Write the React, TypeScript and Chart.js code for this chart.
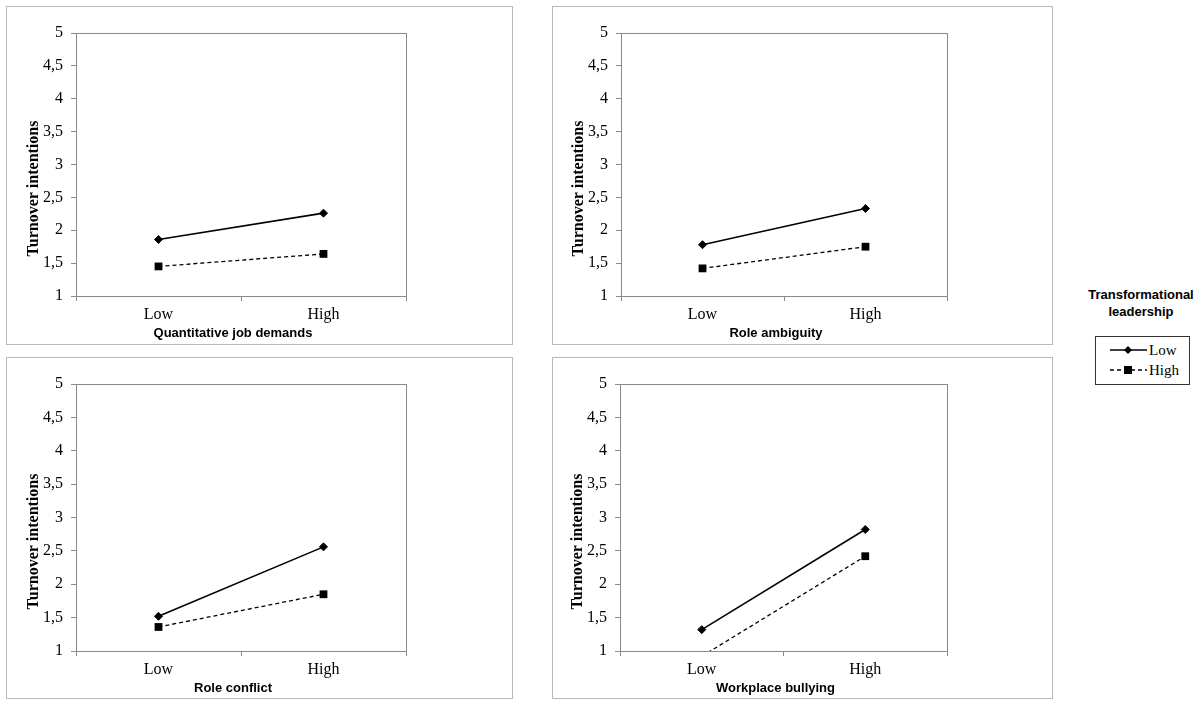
import React, { useEffect, useRef } from 'react';
import { Chart, registerables } from 'chart.js';

Chart.register(...registerables);

// categories on the x axis and the two moderator levels
const categories = ['Low', 'High'];
const seriesNames = ['Low', 'High'];

// y axis ticks (comma decimals as in the source)
const yTickValues = [1, 1.5, 2, 2.5, 3, 3.5, 4, 4.5, 5];
const yTickLabels = ['1', '1,5', '2', '2,5', '3', '3,5', '4', '4,5', '5'];

// values
const jobDemandsLow = [1.86, 2.26];
const jobDemandsHigh = [1.45, 1.64];
const ambiguityLow = [1.78, 2.33];
const ambiguityHigh = [1.42, 1.75];
const conflictLow = [1.52, 2.56];
const conflictHigh = [1.36, 1.85];
const bullyingLow = [1.32, 2.82];
const bullyingHigh = [0.92, 2.42];

const yTitle = 'Turnover intentions';
const legendTitle = 'Transformational leadership';

const AXIS_GRAY = '#8a8a8a';
const BOX_GRAY = '#b8b8b8';
const Y_AXIS_W = 40;
const X_AXIS_H = 28;
const SERIF = '"Liberation Serif", "Times New Roman", serif';
const SANS = '"Liberation Sans", Arial, sans-serif';

type Box = { x: number; y: number; w: number; h: number; plot: { l: number; t: number; r: number; b: number } };

const panels: { title: string; low: number[]; high: number[]; box: Box }[] = [
  { title: 'Quantitative job demands', low: jobDemandsLow, high: jobDemandsHigh,
    box: { x: 6, y: 6, w: 507, h: 339, plot: { l: 76, t: 33, r: 406, b: 296 } } },
  { title: 'Role ambiguity', low: ambiguityLow, high: ambiguityHigh,
    box: { x: 552, y: 6, w: 501, h: 339, plot: { l: 621, t: 33, r: 947, b: 296 } } },
  { title: 'Role conflict', low: conflictLow, high: conflictHigh,
    box: { x: 6, y: 357, w: 507, h: 342, plot: { l: 76, t: 384, r: 406, b: 651 } } },
  { title: 'Workplace bullying', low: bullyingLow, high: bullyingHigh,
    box: { x: 552, y: 357, w: 501, h: 342, plot: { l: 620, t: 384, r: 947, b: 651 } } },
];

// draws the plot frame and both axis titles
const framePlugin = {
  id: 'frame',
  beforeDatasetsDraw(chart: any) {
    const { ctx, chartArea: a } = chart;
    ctx.save();
    ctx.strokeStyle = AXIS_GRAY;
    ctx.lineWidth = 1;
    ctx.strokeRect(Math.round(a.left) + 0.5, Math.round(a.top) + 0.5, Math.round(a.right - a.left), Math.round(a.bottom - a.top));
    ctx.restore();
  },
  afterDraw(chart: any) {
    const { ctx, chartArea: a } = chart;
    const title = chart.options.plugins.frame.xTitle;
    ctx.save();
    ctx.fillStyle = '#000';
    ctx.textAlign = 'center';
    ctx.textBaseline = 'middle';
    ctx.font = `bold 13px ${SANS}`;
    ctx.fillText(title, (a.left + a.right) / 2 - 8, a.bottom + 37);
    ctx.translate(a.left - 42, (a.top + a.bottom) / 2 + 24);
    ctx.rotate(-Math.PI / 2);
    ctx.font = `bold 16px ${SERIF}`;
    ctx.fillText(yTitle, 0, 0);
    ctx.restore();
  },
};

function Panel({ title, low, high, box }: { title: string; low: number[]; high: number[]; box: Box }) {
  const canvasRef = useRef<HTMLCanvasElement>(null);
  const cx = box.x + 1;
  const cy = box.y + 1;
  const cw = box.w - 2;
  const ch = box.h - 2;

  useEffect(() => {
    if (!canvasRef.current) return;
    const padding = {
      left: box.plot.l - cx - Y_AXIS_W,
      top: box.plot.t - cy,
      right: cx + cw - box.plot.r,
      bottom: cy + ch - box.plot.b - X_AXIS_H,
    };
    const chart = new Chart(canvasRef.current, {
      type: 'line',
      data: {
        labels: categories,
        datasets: [
          {
            label: seriesNames[0],
            data: low,
            borderColor: '#000',
            backgroundColor: '#000',
            borderWidth: 1.6,
            pointStyle: 'rectRot',
            pointRadius: 4,
            pointBorderWidth: 1,
            clip: 0,
          },
          {
            label: seriesNames[1],
            data: high,
            borderColor: '#000',
            backgroundColor: '#000',
            borderWidth: 1.3,
            borderDash: [4, 3],
            pointStyle: 'rect',
            pointRadius: 5.5,
            pointBorderWidth: 0,
            clip: 0,
          },
        ],
      },
      options: {
        responsive: false,
        animation: false,
        events: [],
        layout: { padding },
        plugins: {
          legend: { display: false },
          tooltip: { enabled: false },
          frame: { xTitle: title },
        } as any,
        scales: {
          x: {
            offset: true,
            grid: { offset: true, drawOnChartArea: false, drawTicks: true, tickLength: 5, color: AXIS_GRAY },
            border: { display: false },
            ticks: { color: '#000', font: { family: SERIF, size: 16 }, padding: 4, maxRotation: 0 },
            afterFit: (s: any) => { s.height = X_AXIS_H; },
          },
          y: {
            min: 1,
            max: 5,
            afterBuildTicks: (s: any) => { s.ticks = yTickValues.map((v) => ({ value: v })); },
            grid: { drawOnChartArea: false, drawTicks: true, tickLength: 5, color: AXIS_GRAY },
            border: { display: false },
            ticks: {
              color: '#000',
              font: { family: SERIF, size: 16 },
              padding: 8,
              callback: (v: any) => yTickLabels[yTickValues.indexOf(Number(v))],
            },
            afterFit: (s: any) => { s.width = Y_AXIS_W; },
          },
        },
      },
      plugins: [framePlugin],
    });
    return () => chart.destroy();
  }, []);

  return (
    <div
      style={{
        position: 'absolute', left: box.x, top: box.y, width: box.w, height: box.h,
        border: `1px solid ${BOX_GRAY}`, boxSizing: 'border-box', background: '#fff',
      }}
    >
      <canvas ref={canvasRef} width={cw} height={ch} style={{ display: 'block' }} />
    </div>
  );
}

function Legend() {
  return (
    <>
      <div
        style={{
          position: 'absolute', left: 1080, top: 286, width: 122, textAlign: 'center',
          font: `bold 13px ${SANS}`, lineHeight: '17px', color: '#000',
        }}
      >
        {legendTitle.split(' ').map((w) => <div key={w}>{w}</div>)}
      </div>
      <svg style={{ position: 'absolute', left: 1095, top: 336 }} width={95} height={49}>
        <rect x={0.5} y={0.5} width={94} height={48} fill="#fff" stroke="#333" strokeWidth={1} />
        <line x1={15} x2={52} y1={14} y2={14} stroke="#000" strokeWidth={1.5} />
        <polygon points="33,10 37,14 33,18 29,14" fill="#000" />
        <text x={54} y={14} dominantBaseline="central" fontFamily={SERIF} fontSize={15}>{seriesNames[0]}</text>
        <line x1={15} x2={52} y1={34} y2={34} stroke="#000" strokeWidth={1.3} strokeDasharray="4 3" />
        <rect x={29} y={30} width={8} height={8} fill="#000" />
        <text x={54} y={34} dominantBaseline="central" fontFamily={SERIF} fontSize={15}>{seriesNames[1]}</text>
      </svg>
    </>
  );
}

export default function App() {
  return (
    <div style={{ position: 'absolute', left: 0, top: 0, width: 1200, height: 706, background: '#fff' }}>
      {panels.map((p) => (
        <Panel key={p.title} title={p.title} low={p.low} high={p.high} box={p.box} />
      ))}
      <Legend />
    </div>
  );
}
